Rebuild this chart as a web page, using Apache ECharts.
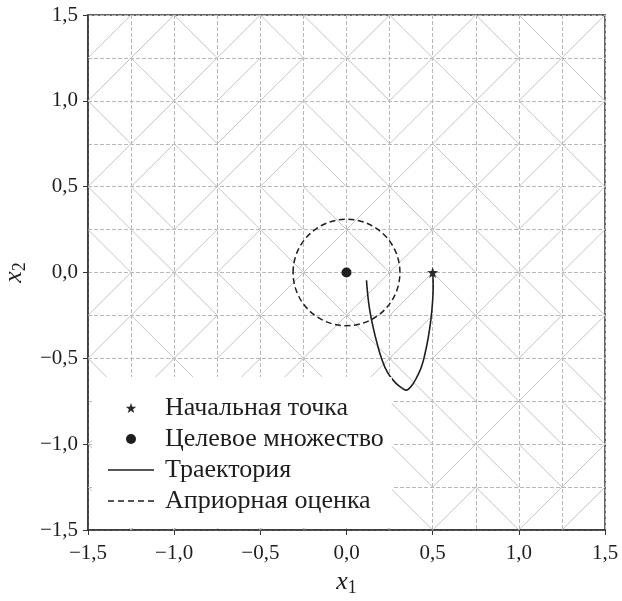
<!DOCTYPE html>
<html>
<head>
<meta charset="utf-8">
<script src="https://cdn.jsdelivr.net/npm/echarts@6/dist/echarts.min.js"></script>
<style>
  html, body { margin: 0; padding: 0; background: #ffffff; }
  #chart { width: 622px; height: 601px; }
</style>
</head>
<body>
<div id="chart"></div>
<script>
// Axis ticks and their printed labels (comma decimals, true minus sign)
const tickValues = [-1.5, -1.0, -0.5, 0.0, 0.5, 1.0, 1.5];
const tickLabels = ['−1,5', '−1,0', '−0,5', '0,0', '0,5', '1,0', '1,5'];

// Legend / series names
const seriesNames = ['Начальная точка', 'Целевое множество', 'Траектория', 'Априорная оценка'];

// Start point and target set
const startPoint = [[0.5, 0.0]];
const targetPoint = [[0.0, 0.0]];

// Trajectory (x1, x2)
const trajectory = [
  [0.500, 0.000], [0.503, -0.078], [0.499, -0.175], [0.490, -0.272],
  [0.476, -0.369], [0.457, -0.466], [0.437, -0.543], [0.412, -0.602],
  [0.385, -0.650], [0.360, -0.679], [0.346, -0.685], [0.321, -0.672],
  [0.282, -0.640], [0.238, -0.582], [0.205, -0.505], [0.176, -0.407],
  [0.153, -0.311], [0.134, -0.214], [0.122, -0.116], [0.116, -0.045]
];

// A priori estimate: circle centre and radius
const priorCircle = [[0.0, 0.0, 0.31]];

// Background triangulation: one string per mesh row (top to bottom),
// one letter per 0.25 x 0.25 cell: u = rising diagonal, d = falling, b = both
const meshStep = 0.25;
const meshOrigin = [-1.5, 1.5];
const meshRows = [
  'uududdududdu',
  'uduuuududuud',
  'duduudduuddu',
  'uuduudduduud',
  'ddudddududuu',
  'dduudududduu',
  'uudduduududd',
  'uduududuuduu',
  'duduududddud',
  'ududududdudd',
  'dududuududdu',
  'dbuduudduduu'
];

const starPath = 'path://M0,-10L2.35,-3.24L9.51,-3.09L3.8,1.24L5.88,8.09L0,4L-5.88,8.09L-3.8,1.24L-9.51,-3.09L-2.35,-3.24Z';
const solidPath = 'path://M0,0h46v1.6h-46z';
const dashPath = 'path://M0,0h6v1.4h-6z M10,0h6v1.4h-6z M20,0h6v1.4h-6z M30,0h6v1.4h-6z M40,0h6v1.4h-6z';

const ink = '#1e1e1e';
const serif = 'Liberation Serif';

// Mesh cells as [x_left, y_top, kind] where kind 1 = rising, -1 = falling, 2 = both
const kindCode = { u: 1, d: -1, b: 2 };
const meshCells = [];
meshRows.forEach(function (row, j) {
  row.split('').forEach(function (ch, i) {
    meshCells.push([meshOrigin[0] + i * meshStep, meshOrigin[1] - j * meshStep, kindCode[ch]]);
  });
});

function tickLabel(v) {
  for (let k = 0; k < tickValues.length; k++) {
    if (Math.abs(tickValues[k] - v) < 1e-9) return tickLabels[k];
  }
  return '';
}

const gridLineStyle = { color: '#b8b8b8', width: 1, type: [4, 2] };

function valueAxis(labelMargin, extra) {
  return Object.assign({
    type: 'value',
    min: tickValues[0],
    max: tickValues[tickValues.length - 1],
    interval: 0.5,
    axisLine: { show: true, onZero: false, lineStyle: { color: '#333', width: 1.5 } },
    axisTick: { show: true, inside: false, length: 5, lineStyle: { color: '#333', width: 1 } },
    axisLabel: { formatter: tickLabel, fontFamily: serif, fontSize: 21, color: ink, margin: labelMargin },
    splitLine: { show: true, lineStyle: gridLineStyle },
    minorTick: { show: false, splitNumber: 2 },
    minorSplitLine: { show: true, lineStyle: gridLineStyle }
  }, extra);
}

const nameRich = {
  i: { fontFamily: serif, fontStyle: 'italic', fontSize: 26, color: ink, lineHeight: 30, verticalAlign: 'middle' },
  s: { fontFamily: serif, fontSize: 18, color: ink, verticalAlign: 'bottom' }
};

const chart = echarts.init(document.getElementById('chart'), null, { renderer: 'canvas' });

chart.setOption({
  animation: false,
  backgroundColor: '#ffffff',
  grid: {
    left: 88, top: 15, width: 517, height: 515,
    containLabel: false,
    outerBoundsMode: 'none',
    show: true, borderColor: '#333', borderWidth: 1.5, backgroundColor: 'transparent'
  },
  xAxis: valueAxis(13, {
    name: '{i|x}{s|1}',
    nameLocation: 'middle',
    nameGap: 36,
    nameTextStyle: { rich: nameRich }
  }),
  yAxis: valueAxis(10, {
    name: '{i|x}{s|2}',
    nameLocation: 'middle',
    nameGap: 57,
    nameRotate: 90,
    nameTextStyle: { rich: nameRich }
  }),
  legend: {
    orient: 'vertical',
    left: 92,
    top: 377,
    padding: [18, 8, 14, 16],
    backgroundColor: '#ffffff',
    itemWidth: 46,
    itemHeight: 10,
    itemGap: 5,
    selectedMode: false,
    textStyle: { fontFamily: serif, fontSize: 26, color: ink, lineHeight: 26, padding: [0, 0, 0, 6] },
    data: [
      { name: seriesNames[0], icon: starPath },
      { name: seriesNames[1], icon: 'circle' },
      { name: seriesNames[2], icon: solidPath },
      { name: seriesNames[3], icon: dashPath }
    ]
  },
  series: [
    {
      type: 'custom',
      name: 'mesh',
      silent: true,
      z: 1,
      data: meshCells,
      encode: { x: 0, y: 1 },
      renderItem: function (params, api) {
        const x0 = api.value(0), y0 = api.value(1), kind = api.value(2);
        const tl = api.coord([x0, y0]);
        const tr = api.coord([x0 + meshStep, y0]);
        const bl = api.coord([x0, y0 - meshStep]);
        const br = api.coord([x0 + meshStep, y0 - meshStep]);
        const style = { stroke: '#c4c4c4', lineWidth: 1 };
        const rising = { type: 'line', shape: { x1: bl[0], y1: bl[1], x2: tr[0], y2: tr[1] }, style: style };
        const falling = { type: 'line', shape: { x1: tl[0], y1: tl[1], x2: br[0], y2: br[1] }, style: style };
        if (kind === 2) return { type: 'group', children: [rising, falling] };
        return kind === 1 ? rising : falling;
      }
    },
    {
      type: 'custom',
      name: seriesNames[3],
      z: 3,
      itemStyle: { color: ink },
      data: priorCircle,
      encode: { x: 0, y: 1 },
      renderItem: function (params, api) {
        const c = api.coord([api.value(0), api.value(1)]);
        const r = api.size([api.value(2), api.value(2)]);
        return {
          type: 'ellipse',
          shape: { cx: c[0], cy: c[1], rx: r[0], ry: r[1] },
          style: { fill: null, stroke: ink, lineWidth: 1.5, lineDash: [6, 3.5] }
        };
      }
    },
    {
      type: 'line',
      name: seriesNames[2],
      z: 3,
      data: trajectory,
      smooth: 0.5,
      symbol: 'none',
      lineStyle: { color: ink, width: 1.6 },
      itemStyle: { color: ink }
    },
    {
      type: 'scatter',
      name: seriesNames[1],
      z: 4,
      data: targetPoint,
      symbol: 'circle',
      symbolSize: 10,
      itemStyle: { color: ink, opacity: 1 }
    },
    {
      type: 'scatter',
      name: seriesNames[0],
      z: 4,
      data: startPoint,
      symbol: starPath,
      symbolSize: 11,
      itemStyle: { color: '#2a2a2a', opacity: 1 }
    }
  ]
});
</script>
</body>
</html>
